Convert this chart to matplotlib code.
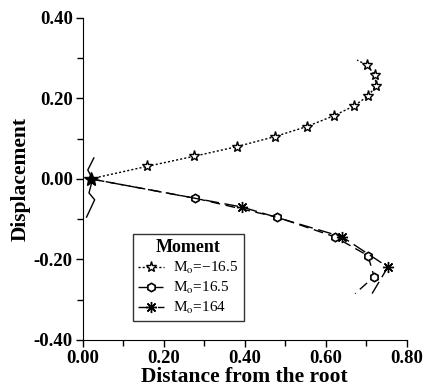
import numpy as np
import matplotlib.pyplot as plt
from matplotlib.ticker import MultipleLocator

# ##### DATA ######

# M_o = -16.5 (stars, dotted)
x_neg = [0.02, 0.159, 0.275, 0.381, 0.475, 0.554, 0.621, 0.670, 0.705, 0.725, 0.722, 0.702, 0.678]
y_neg = [0.0, 0.031, 0.056, 0.080, 0.105, 0.130, 0.157, 0.181, 0.206, 0.231, 0.258, 0.283, 0.295]

# M_o = 16.5 (hexagons, dashed)
x_pos = [0.02, 0.278, 0.480, 0.623, 0.705, 0.720, 0.673]
y_pos = [0.0, -0.048, -0.095, -0.144, -0.191, -0.243, -0.285]

# M_o = 164 (asterisks)
x_big = [0.02, 0.394, 0.641, 0.754, 0.715]
y_big = [0.0, -0.070, -0.144, -0.219, -0.285]

# wiggle near the root
x_root = [0.028, 0.013, 0.025, 0.016, 0.030, 0.010]
y_root = [0.052, 0.022, 0.0, -0.035, -0.052, -0.095]

labels = [r'M$_\mathrm{o}$=\u221216.5', r'M$_\mathrm{o}$=16.5', r'M$_\mathrm{o}$=164']
labels[0] = labels[0].replace('\\u2212', '\u2212')

######################

plt.rcParams['font.family'] = ['Liberation Serif', 'DejaVu Serif']
plt.rcParams['mathtext.fontset'] = 'stix'

fig = plt.figure(figsize=(4.32, 3.88), dpi=100)
ax = fig.add_axes([0.191, 0.124, 0.75, 0.830])

n = len(x_neg)
ax.plot(x_neg, y_neg, color='k', lw=1.0, ls=(0, (1.5, 1.5)), marker='*', ms=8,
        mfc='white', mec='k', mew=1.0, markevery=list(range(1, n - 1)), label=labels[0])
ax.plot(x_pos, y_pos, color='k', lw=1.0, ls=(0, (7, 4)), marker='h', ms=6,
        mfc='white', mec='k', mew=1.2, markevery=list(range(1, len(x_pos) - 1)), label=labels[1])
ax.plot(x_big, y_big, color='k', lw=1.0, ls=(0, (10, 4)), marker=(8, 2, 0), ms=8,
        mec='k', mew=1.0, markevery=list(range(1, len(x_big) - 1)), label=labels[2])
ax.plot(x_root, y_root, color='k', lw=1.0)
ax.plot([0.02], [0.0], marker='*', ms=10, color='k')

ax.set_xlim(0, 0.8)
ax.set_ylim(-0.4, 0.4)
ax.xaxis.set_major_locator(MultipleLocator(0.2))
ax.xaxis.set_minor_locator(MultipleLocator(0.1))
ax.yaxis.set_major_locator(MultipleLocator(0.2))
ax.yaxis.set_minor_locator(MultipleLocator(0.1))
ax.xaxis.set_major_formatter(plt.FormatStrFormatter('%.2f'))
ax.yaxis.set_major_formatter(plt.FormatStrFormatter('%.2f'))
ax.tick_params(which='both', direction='out', width=1.0)
ax.tick_params(which='major', length=5, pad=2)
ax.tick_params(which='minor', length=4)
for lab in ax.get_xticklabels() + ax.get_yticklabels():
    lab.set_fontweight('bold')
    lab.set_fontsize(13.5)

ax.spines['top'].set_visible(False)
ax.spines['right'].set_visible(False)

ax.set_xlabel('Distance from the root', fontsize=15.5, fontweight='bold', labelpad=0)
ax.set_ylabel('Displacement', fontsize=15.5, fontweight='bold', labelpad=2)

leg = ax.legend(loc='upper left', bbox_to_anchor=(133 / 432, 1 - 234 / 388),
                bbox_transform=fig.transFigure, frameon=True, fancybox=False,
                edgecolor='k', title='Moment', fontsize=11, handlelength=1.7,
                borderpad=0.35, labelspacing=0.25, handletextpad=0.6, borderaxespad=0)
leg.get_title().set_fontsize(13)
leg.get_title().set_fontweight('bold')
leg.get_frame().set_linewidth(1.0)

plt.savefig('out.png', dpi=100)
plt.close()
